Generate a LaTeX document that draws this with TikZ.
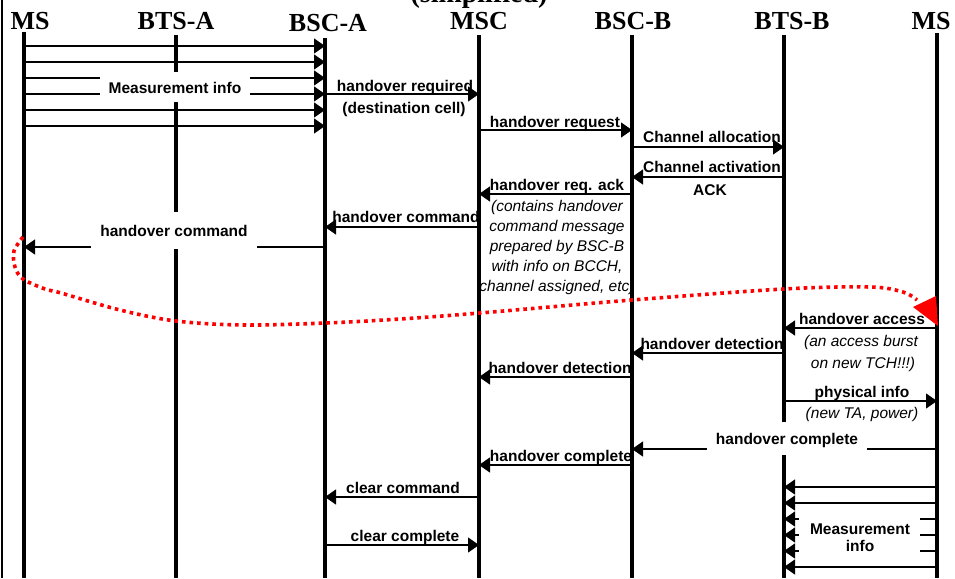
\documentclass[tikz,border=0pt]{standalone}
\usepackage{fontspec}
\setmainfont{Liberation Serif}
\setsansfont{Liberation Sans}
\usetikzlibrary{arrows.meta}
\begin{document}
\begin{tikzpicture}[x=1pt,y=-1pt,
  lifeline/.style={line width=3.4pt},
  msg/.style={line width=1.2pt,-{Triangle[length=11pt,width=15pt]}},
  hdr/.style={font=\fontsize{26}{28}\selectfont\bfseries\rmfamily,anchor=base,inner sep=0pt},
  lbl/.style={font=\fontsize{15.5}{18}\selectfont\bfseries\sffamily,anchor=base,inner sep=0pt},
  note/.style={font=\fontsize{15.5}{18}\selectfont\itshape\sffamily,anchor=base,inner sep=0pt},
  reddot/.style={draw=red,line width=3.6pt,dash pattern=on 3.6pt off 4pt},
]
\useasboundingbox (0,0) rectangle (955,578);
% frame edge
\draw[line width=2pt] (1.5,0) -- (1.5,578);
% title and headers
\node[hdr,font=\fontsize{28}{30}\selectfont\bfseries\rmfamily] (title) at (479,3) {(simplified)};
\node[hdr] (hMSa) at (30,29.5) {MS};
\node[hdr] (hBTSa) at (176,29.5) {BTS-A};
\node[hdr] (hBSCa) at (328,31.5) {BSC-A};
\node[hdr] (hMSC) at (479,30) {MSC};
\node[hdr] (hBSCb) at (633,30) {BSC-B};
\node[hdr] (hBTSb) at (792,30) {BTS-B};
\node[hdr] (hMSb) at (931,30) {MS};
% lifelines
\coordinate (msa) at (24,32);
\coordinate (btsa) at (176,35);
\coordinate (bsca) at (325,38);
\coordinate (msc) at (479,35);
\coordinate (bscb) at (632,35);
\coordinate (btsb) at (784,35);
\coordinate (msb) at (937,33);
\coordinate (bot) at (0,578);
\foreach \c in {msa,btsa,bsca,msc,bscb,btsb,msb}
  \draw[lifeline] (\c) -- (\c |- bot);
% measurement info (top)
\foreach \yy in {46,62,78,94,110,126}
  \draw[msg] (msa |- 0,\yy) -- (bsca |- 0,\yy);
% messages
\draw[msg] (bsca |- 0,94) -- (msc |- 0,94);
\draw[msg] (msc |- 0,130) -- (bscb |- 0,130);
\draw[msg] (bscb |- 0,147) -- (btsb |- 0,147);
\draw[msg] (btsb |- 0,177) -- (bscb |- 0,177);
\draw[msg] (bscb |- 0,194) -- (msc |- 0,194);
\draw[msg] (msc |- 0,227) -- (bsca |- 0,227);
\draw[msg] (bsca |- 0,247) -- (msa |- 0,247);
\draw[msg] (msb |- 0,328) -- (btsb |- 0,328);
\draw[msg] (btsb |- 0,353) -- (bscb |- 0,353);
\draw[msg] (bscb |- 0,377) -- (msc |- 0,377);
\draw[msg] (btsb |- 0,401) -- (msb |- 0,401);
\draw[msg] (msb |- 0,449) -- (bscb |- 0,449);
\draw[msg] (bscb |- 0,465) -- (msc |- 0,465);
\draw[msg] (msc |- 0,497) -- (bsca |- 0,497);
\draw[msg] (bsca |- 0,545) -- (msc |- 0,545);
% measurement info (bottom)
\foreach \yy in {487,503,519,535,551,567}
  \draw[msg] (msb |- 0,\yy) -- (btsb |- 0,\yy);
% white label backgrounds
\fill[white] (100,72) rectangle (250,102);
\fill[white] (91,212) rectangle (257,249);
\fill[white] (707,422) rectangle (867,455);
\fill[white] (799,511) rectangle (920,559);
% labels
\node[lbl] (t1) at (175,93) {Measurement info};
\node[lbl] (t2) at (405,91.5) {handover required};
\node[lbl] (t3) at (404,113) {(destination cell)};
\node[lbl] (t4) at (555,127) {handover request};
\node[lbl] (t5) at (712,142) {Channel allocation};
\node[lbl] (t6) at (712,172) {Channel activation};
\node[lbl] (t7) at (710,195) {ACK};
\node[lbl] (t8) at (557,190) {handover req. ack};
\node[note] (n1) at (557,211) {(contains handover};
\node[note] (n2) at (557,231) {command message};
\node[note] (n3) at (557,251) {prepared by BSC-B};
\node[note] (n4) at (557,271) {with info on BCCH,};
\node[note] (n5) at (557,291) {channel assigned, etc)};
\node[lbl] (t9) at (406,222) {handover command};
\node[lbl] (t10) at (174,236) {handover command};
\node[lbl] (t11) at (862,324) {handover access};
\node[note] (n6) at (861,346) {(an access burst};
\node[note] (n7) at (863,368) {on new TCH!!!)};
\node[lbl] (t12) at (712,349) {handover detection};
\node[lbl] (t13) at (560,373.5) {handover detection};
\node[lbl] (t14) at (862,397) {physical info};
\node[note] (n8) at (862,418) {(new TA, power)};
\node[lbl] (t15) at (787,444.5) {handover complete};
\node[lbl] (t16) at (561,461) {handover complete};
\node[lbl] (t17) at (403,493.5) {clear command};
\node[lbl] (t18) at (405,541) {clear complete};
\node[lbl] (t19) at (860,534) {Measurement};
\node[lbl] (t20) at (860,551) {info};
% red dotted path
\coordinate (rs) at (23,237);
\coordinate (re) at (917,300);
\draw[reddot] plot[smooth,tension=0.55] coordinates {(rs) (14,251) (15,267) (23,279) (45,289) (61,293) (120,310) (176,321) (243,325) (326,323) (400,319) (480,313) (632,300) (784,289) (870,287) (903,292) (re)};
\fill[red] (913,307) -- (936,296) -- (938,326) -- cycle;
\end{tikzpicture}
\end{document}
